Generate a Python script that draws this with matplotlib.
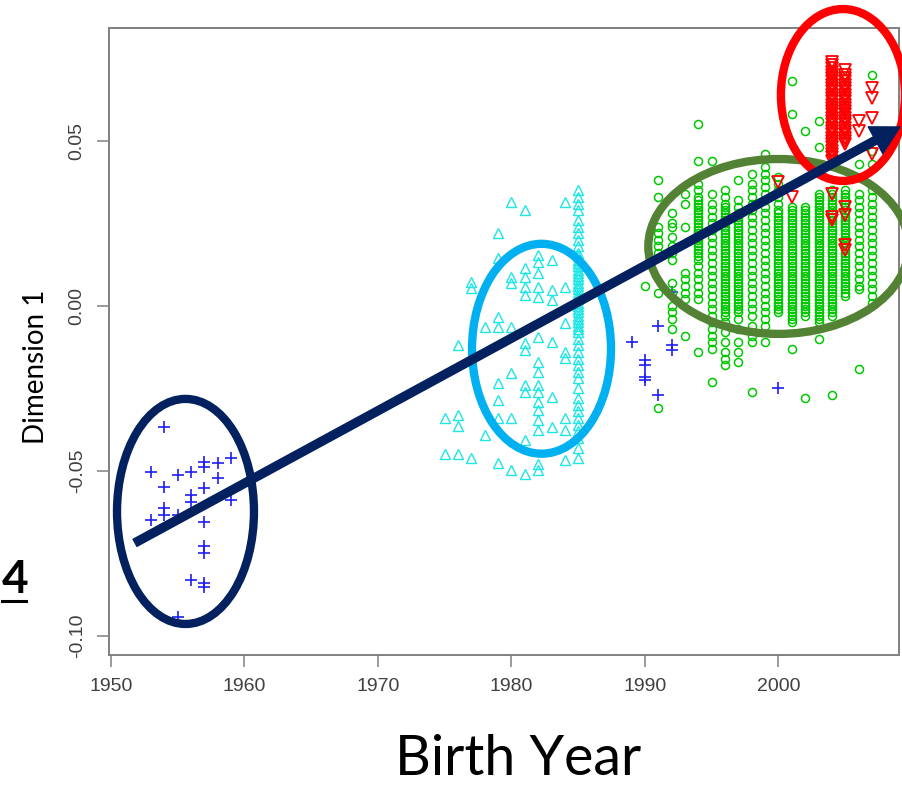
import matplotlib
matplotlib.use("Agg")
import matplotlib.pyplot as plt
from matplotlib.patches import Ellipse, FancyArrowPatch
from matplotlib.lines import Line2D

# ---------------- data ----------------
x_ticks = [1950, 1960, 1970, 1980, 1990, 2000]
y_ticks = [-0.10, -0.05, 0.00, 0.05]
y_tick_labels = ["-0.10", "-0.05", "0.00", "0.05"]

blue_x = [1954, 1953, 1955, 1956, 1957, 1957, 1958, 1959, 1958, 1954, 1957, 1956, 1956,
          1959, 1954, 1954, 1953, 1955, 1957, 1957, 1957, 1956, 1957, 1957, 1955,
          1989, 1991, 1992, 1992, 1990, 1990, 1990, 1990, 1991, 2000, 1992]
blue_y = [-0.0367, -0.0503, -0.0512, -0.0503, -0.0473, -0.0488, -0.0476, -0.0461, -0.0521,
          -0.0548, -0.0552, -0.0573, -0.0594, -0.0588, -0.0612, -0.0633, -0.0648, -0.0633,
          -0.0655, -0.0727, -0.0748, -0.0830, -0.0839, -0.0851, -0.0942,
          -0.0109, -0.0061, -0.0118, -0.0133, -0.0164, -0.0179, -0.0215, -0.0224, -0.0270,
          -0.0248, 0.0042]

cyan_1975 = [-0.034, -0.045]
cyan_1976 = [-0.012, -0.033, -0.0365, -0.045]
cyan_1977 = [0.0073, 0.0055, -0.046]
cyan_1978 = [-0.0064, -0.039]
cyan_1979 = [0.022, 0.0145, -0.0033, -0.0064, -0.0233, -0.0285, -0.034, -0.0476]
cyan_1980 = [0.0315, 0.0088, 0.007, -0.0064, -0.0203, -0.034, -0.0497]
cyan_1981 = [0.029, 0.0115, 0.0088, 0.0058, 0.0033, -0.0112, -0.0133, -0.024, -0.026,
             -0.0406, -0.051]
cyan_1982 = [0.0155, 0.0133, 0.010, 0.0058, 0.0027, -0.0094, -0.017, -0.020, -0.024, -0.026,
             -0.029, -0.0315, -0.0345, -0.0375, -0.048, -0.0497]
cyan_1983 = [0.014, 0.0048, 0.0018, -0.0109, -0.0276, -0.0366]
cyan_1984 = [0.0315, 0.0058, -0.0052, -0.0139, -0.0158, -0.034, -0.0375, -0.0467]
cyan_1985 = [0.035, 0.033, 0.031, 0.029, 0.026, 0.024, 0.022, 0.020, 0.018, 0.016, 0.015,
             0.014, 0.013, 0.012, 0.011, 0.010, 0.009, 0.008, 0.007, 0.006, 0.005, 0.004,
             0.003, 0.002, 0.001, 0.000, -0.001, -0.002, -0.003, -0.004, -0.005, -0.006,
             -0.007, -0.008, -0.010, -0.012, -0.014, -0.016, -0.018, -0.020, -0.022, -0.025,
             -0.028, -0.030, -0.032, -0.034, -0.036, -0.038, -0.040, -0.043, -0.046]

green_1990 = [0.006]
green_1991 = [0.038, 0.033, 0.024, 0.022, 0.020, 0.018, 0.016, 0.004, -0.031]
green_1992 = [0.028, 0.025, 0.024, 0.021, 0.018, 0.016, 0.014, 0.007, 0.004, 0.000, -0.002,
              -0.004, -0.007]
green_1993 = [0.034, 0.031, 0.024, 0.010, 0.008, 0.006, 0.004, 0.002, -0.009]
green_1994 = [0.055, 0.044, 0.037, 0.035, 0.033, 0.032, 0.031, 0.030, 0.029, 0.028, 0.027,
              0.026, 0.025, 0.024, 0.023, 0.022, 0.021, 0.020, 0.019, 0.018, 0.017, 0.016,
              0.015, 0.014, 0.012, 0.010, 0.008, 0.006, 0.004, 0.002, -0.014]
green_1995 = [0.044, 0.034, 0.031, 0.029, 0.027, 0.025, 0.023, 0.021, 0.019, 0.017, 0.015,
              0.013, 0.011, 0.009, 0.007, 0.005, 0.003, 0.001, -0.001, -0.003, -0.005,
              -0.007, -0.009, -0.011, -0.013, -0.023]
green_1996 = [0.035, 0.033, 0.031, 0.030, 0.029, 0.028, 0.027, 0.026, 0.025, 0.024, 0.023,
              0.022, 0.021, 0.020, 0.019, 0.018, 0.017, 0.016, 0.015, 0.014, 0.013, 0.012,
              0.011, 0.010, 0.009, 0.008, 0.007, 0.006, 0.005, 0.004, 0.003, 0.002, 0.001,
              0.000, -0.001, -0.002, -0.003, -0.005, -0.008, -0.011, -0.014, -0.016, -0.018]
green_1997 = [0.038, 0.032, 0.030, 0.028, 0.027, 0.026, 0.025, 0.024, 0.023, 0.022, 0.021,
              0.020, 0.019, 0.018, 0.017, 0.016, 0.015, 0.014, 0.013, 0.012, 0.011, 0.010,
              0.009, 0.008, 0.007, 0.006, 0.005, 0.004, 0.003, 0.002, 0.001, 0.000, -0.001,
              -0.002, -0.004, -0.007, -0.011, -0.014, -0.017]
green_1998 = [0.040, 0.037, 0.035, 0.033, 0.031, 0.029, 0.027, 0.025, 0.023, 0.021, 0.019,
              0.017, 0.015, 0.013, 0.011, 0.009, 0.007, 0.005, 0.003, 0.001, -0.001, -0.003,
              -0.006, -0.009, -0.011, -0.026]
green_1999 = [0.046, 0.042, 0.040, 0.038, 0.036, 0.034, 0.032, 0.030, 0.028, 0.026, 0.024,
              0.022, 0.020, 0.018, 0.016, 0.014, 0.012, 0.010, 0.008, 0.006, 0.004, 0.002,
              0.000, -0.002, -0.004, -0.006, -0.011]
green_2000 = [0.039, 0.037, 0.035, 0.033, 0.031, 0.029, 0.028, 0.027, 0.026, 0.025, 0.024,
              0.023, 0.022, 0.021, 0.020, 0.019, 0.018, 0.017, 0.016, 0.015, 0.014, 0.013,
              0.012, 0.011, 0.010, 0.009, 0.008, 0.007, 0.006, 0.005, 0.004, 0.003, 0.002,
              0.001, 0.000, -0.001, -0.002]
green_2001 = [0.068, 0.058, 0.030, 0.029, 0.028, 0.027, 0.026, 0.025, 0.024, 0.023, 0.022,
              0.021, 0.020, 0.019, 0.018, 0.017, 0.016, 0.015, 0.014, 0.013, 0.012, 0.011,
              0.010, 0.009, 0.008, 0.007, 0.006, 0.005, 0.004, 0.003, 0.002, 0.001, 0.000,
              -0.001, -0.002, -0.003, -0.004, -0.005, -0.013]
green_2002 = [0.053, 0.030, 0.029, 0.028, 0.027, 0.026, 0.025, 0.024, 0.023, 0.022, 0.021,
              0.020, 0.019, 0.018, 0.017, 0.016, 0.015, 0.014, 0.013, 0.012, 0.011, 0.010,
              0.009, 0.008, 0.007, 0.006, 0.005, 0.004, 0.003, 0.002, 0.001, 0.000, -0.001,
              -0.002, -0.003, -0.028]
green_2003 = [0.056, 0.048, 0.034, 0.033, 0.032, 0.031, 0.030, 0.029, 0.028, 0.027, 0.026,
              0.025, 0.024, 0.023, 0.022, 0.021, 0.020, 0.019, 0.018, 0.017, 0.016, 0.015,
              0.014, 0.013, 0.012, 0.011, 0.010, 0.009, 0.008, 0.007, 0.006, 0.005, 0.004,
              0.003, 0.002, 0.001, 0.000, -0.001, -0.002, -0.003, -0.004, -0.005, -0.010]
green_2004 = [0.068, 0.035, 0.034, 0.033, 0.032, 0.031, 0.030, 0.029, 0.028, 0.027, 0.026,
              0.025, 0.024, 0.023, 0.022, 0.021, 0.020, 0.019, 0.018, 0.017, 0.016, 0.015,
              0.014, 0.013, 0.012, 0.011, 0.010, 0.009, 0.008, 0.007, 0.006, 0.005, 0.004,
              0.003, 0.002, 0.001, 0.000, -0.001, -0.002, -0.003, -0.027]
green_2005 = [0.035, 0.034, 0.033, 0.032, 0.031, 0.030, 0.029, 0.028, 0.027, 0.026, 0.025,
              0.024, 0.023, 0.022, 0.021, 0.020, 0.019, 0.018, 0.017, 0.016, 0.015, 0.014,
              0.013, 0.012, 0.011, 0.010, 0.009, 0.008, 0.007, 0.006, 0.005, 0.004, 0.003]
green_2006 = [0.043, 0.034, 0.032, 0.030, 0.028, 0.026, 0.024, 0.022, 0.020, 0.018, 0.016,
              0.014, 0.012, 0.010, 0.008, 0.006, 0.005, -0.019]
green_2007 = [0.070, 0.047, 0.043, 0.035, 0.033, 0.031, 0.029, 0.027, 0.025, 0.023, 0.021,
              0.019, 0.017, 0.015, 0.013, 0.011, 0.009, 0.007, 0.005, 0.003, 0.001]

red_2000 = [0.0376]
red_2001 = [0.033]
red_2004 = [0.074, 0.073, 0.072, 0.071, 0.070, 0.069, 0.068, 0.067, 0.066, 0.065, 0.064,
            0.063, 0.062, 0.061, 0.060, 0.059, 0.058, 0.057, 0.056, 0.055, 0.054, 0.053,
            0.052, 0.051, 0.050, 0.049, 0.048, 0.047, 0.046, 0.045, 0.044, 0.034, 0.027,
            0.026]
red_2005 = [0.0715, 0.070, 0.069, 0.068, 0.067, 0.066, 0.065, 0.064, 0.063, 0.062, 0.061,
            0.060, 0.059, 0.058, 0.057, 0.056, 0.055, 0.054, 0.053, 0.052, 0.051, 0.050,
            0.049, 0.030, 0.0275, 0.0185, 0.017]
red_2006 = [0.056, 0.053]
red_2007 = [0.066, 0.063, 0.057, 0.046]

# ---------------- figure ----------------
W, H = 902, 787
fig = plt.figure(figsize=(W / 100, H / 100), dpi=100)

def fx(px):
    return px / W

def fy(py):
    return 1 - py / H

ax = fig.add_axes([fx(109), fy(655), fx(899) - fx(109), fy(28) - fy(655)])
ax.set_xlim(1949.85, 2009.03)
ax.set_ylim(-0.1058, 0.0842)

tick_font = dict(family="Liberation Sans", size=14, color="#404040")
ax.set_xticks(x_ticks)
ax.set_xticklabels([str(t) for t in x_ticks], **tick_font)
ax.set_yticks(y_ticks)
ax.set_yticklabels(y_tick_labels, rotation=90, va="center", **tick_font)
ax.tick_params(axis="both", length=8.3, width=1.1, color="#808080")
ax.tick_params(axis="x", pad=8.6)
ax.tick_params(axis="y", pad=8.5)
for sp in ax.spines.values():
    sp.set_color("#808080")
    sp.set_linewidth(1.4)

# points
ax.plot(blue_x, blue_y, linestyle="none", marker="+", markersize=9, markeredgewidth=1.2,
        color="#1f1ff5")

cyan_groups = [(1975, cyan_1975), (1976, cyan_1976), (1977, cyan_1977), (1978, cyan_1978),
               (1979, cyan_1979), (1980, cyan_1980), (1981, cyan_1981), (1982, cyan_1982),
               (1983, cyan_1983), (1984, cyan_1984), (1985, cyan_1985)]
cx, cy = [], []
for yr, vals in cyan_groups:
    cx += [yr] * len(vals)
    cy += vals
ax.plot(cx, cy, linestyle="none", marker="^", markersize=7.5, markeredgewidth=1.0,
        markerfacecolor="none", markeredgecolor="#1ee6e6")

green_groups = [(1990, green_1990), (1991, green_1991), (1992, green_1992), (1993, green_1993),
                (1994, green_1994), (1995, green_1995), (1996, green_1996), (1997, green_1997),
                (1998, green_1998), (1999, green_1999), (2000, green_2000), (2001, green_2001),
                (2002, green_2002), (2003, green_2003), (2004, green_2004), (2005, green_2005),
                (2006, green_2006), (2007, green_2007)]
gx, gy = [], []
for yr, vals in green_groups:
    gx += [yr] * len(vals)
    gy += vals
ax.plot(gx, gy, linestyle="none", marker="o", markersize=5.8, markeredgewidth=1.1,
        markerfacecolor="none", markeredgecolor="#00c800")

red_groups = [(2000, red_2000), (2001, red_2001), (2004, red_2004), (2005, red_2005),
              (2006, red_2006), (2007, red_2007)]
rx, ry = [], []
for yr, vals in red_groups:
    rx += [yr] * len(vals)
    ry += vals
ax.plot(rx, ry, linestyle="none", marker="v", markersize=8.5, markeredgewidth=1.3,
        markerfacecolor="none", markeredgecolor="#ff0000")

# annotation ellipses
ell_lw = 6
for (cxe, cye, w, h, col) in [(1955.58, -0.0623, 10.26, 0.0682, "#03205f"),
                              (1982.25, -0.0130, 10.41, 0.0636, "#00b0f0"),
                              (2000.0, 0.0180, 19.5, 0.0530, "#548235"),
                              (2004.83, 0.0639, 9.29, 0.0521, "#ff0000")]:
    e = Ellipse((cxe, cye), w, h, fill=False, edgecolor=col, linewidth=ell_lw,
                clip_on=False, zorder=5)
    ax.add_patch(e)

arrow = FancyArrowPatch((1951.8, -0.0718), (2009.1, 0.0542),
                        arrowstyle="simple,head_length=2.0,head_width=2.2,tail_width=0.58",
                        mutation_scale=10, color="#03205f", shrinkA=0, shrinkB=0,
                        clip_on=False, zorder=6)
ax.add_patch(arrow)

# texts
fig.text(fx(36), fy(367), "Dimension 1", rotation=90, ha="center", va="center",
         family="Lato", fontsize=20, color="#000000")
fig.text(fx(518), fy(775), "Birth Year", ha="center", va="baseline",
         family="Lato", fontsize=40, color="#000000")
fig.text(fx(28), fy(593), "4", ha="right", va="baseline", family="Lato",
         fontweight="bold", fontsize=33, color="#000000")
fig.add_artist(Line2D([fx(2), fx(26)], [fy(601), fy(601)], transform=fig.transFigure,
                      color="#000000", linewidth=2.2))

fig.savefig("out.png", dpi=100)
